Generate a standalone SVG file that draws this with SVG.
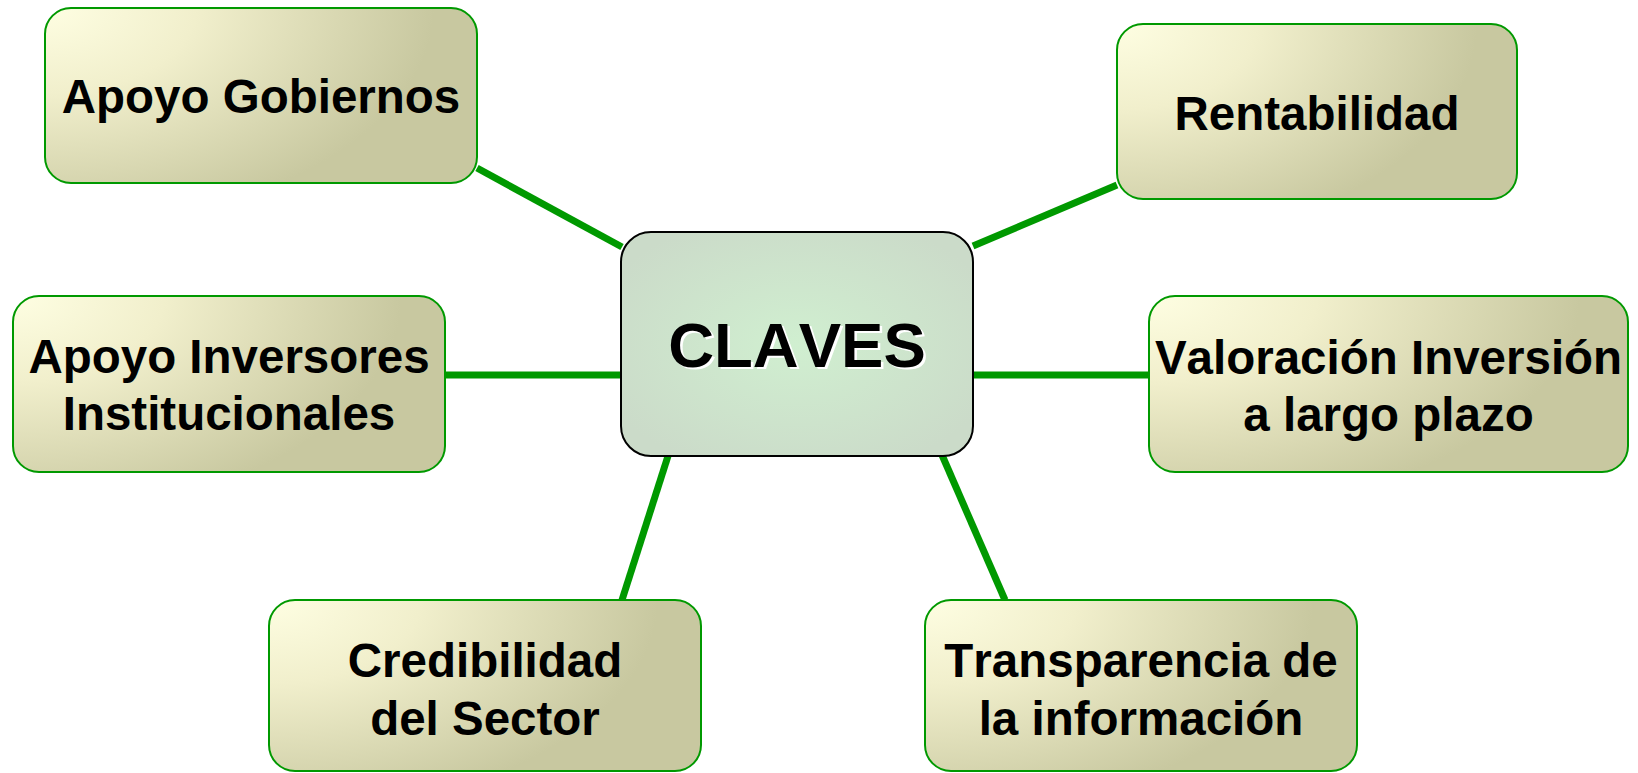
<svg xmlns="http://www.w3.org/2000/svg" width="1638" height="773" viewBox="0 0 1638 773">
<defs>
<radialGradient id="gSide" cx="0" cy="0" r="1" fx="0" fy="0" gradientTransform="scale(1,1.4)">
<stop offset="0" stop-color="#fefee2"/>
<stop offset="0.35" stop-color="#f1efcc"/>
<stop offset="0.9" stop-color="#c8c8a0"/>
</radialGradient>
<radialGradient id="gCenter" cx="0.5" cy="0.5" r="0.6">
<stop offset="0" stop-color="#d0efd0"/>
<stop offset="1" stop-color="#cbdbc9"/>
</radialGradient>
</defs>
<style>
.box{fill:url(#gSide);stroke:#009900;stroke-width:2}
.center{fill:url(#gCenter);stroke:#000;stroke-width:2}
.lbl{font-family:"Liberation Sans",Arial,sans-serif;font-weight:bold;font-size:47.5px;fill:#000;text-anchor:middle;font-kerning:none}
.big{font-family:"Liberation Sans",Arial,sans-serif;font-weight:bold;font-size:63.5px;text-anchor:middle;font-kerning:none}
.conn{stroke:#009900;stroke-width:7;fill:none}
</style>
<rect width="1638" height="773" fill="#fff"/>
<g id="connectors">
<line class="conn" x1="477" y1="168" x2="622" y2="247"/>
<line class="conn" x1="973" y1="246" x2="1117" y2="185"/>
<line class="conn" x1="445" y1="375" x2="621" y2="375"/>
<line class="conn" x1="973" y1="375" x2="1149" y2="375"/>
<line class="conn" x1="668" y1="456" x2="622" y2="600"/>
<line class="conn" x1="942" y1="455" x2="1005" y2="600"/>
</g>
<g id="center">
<rect class="center" x="621" y="232" width="352" height="224" rx="30" ry="30"/>
<text class="big" x="799.5" y="369" fill="#fff">CLAVES</text>
<text class="big" x="797" y="367" fill="#000">CLAVES</text>
</g>
<g id="apoyo-gobiernos">
<rect class="box" x="45" y="8" width="432" height="175" rx="26" ry="26"/>
<text class="lbl" x="261" y="113">Apoyo Gobiernos</text>
</g>
<g id="rentabilidad">
<rect class="box" x="1117" y="24" width="400" height="175" rx="26" ry="26"/>
<text class="lbl" x="1317" y="130">Rentabilidad</text>
</g>
<g id="apoyo-inversores">
<rect class="box" x="13" y="296" width="432" height="176" rx="26" ry="26"/>
<text class="lbl" x="229" y="373">Apoyo Inversores</text>
<text class="lbl" x="229" y="430">Institucionales</text>
</g>
<g id="valoracion">
<rect class="box" x="1149" y="296" width="479" height="176" rx="26" ry="26"/>
<text class="lbl" x="1388.5" y="374">Valoración Inversión</text>
<text class="lbl" x="1388.5" y="431">a largo plazo</text>
</g>
<g id="credibilidad">
<rect class="box" x="269" y="600" width="432" height="171" rx="26" ry="26"/>
<text class="lbl" x="485" y="677">Credibilidad</text>
<text class="lbl" x="485" y="735">del Sector</text>
</g>
<g id="transparencia">
<rect class="box" x="925" y="600" width="432" height="171" rx="26" ry="26"/>
<text class="lbl" x="1141" y="677">Transparencia de</text>
<text class="lbl" x="1141" y="735">la información</text>
</g>
</svg>
